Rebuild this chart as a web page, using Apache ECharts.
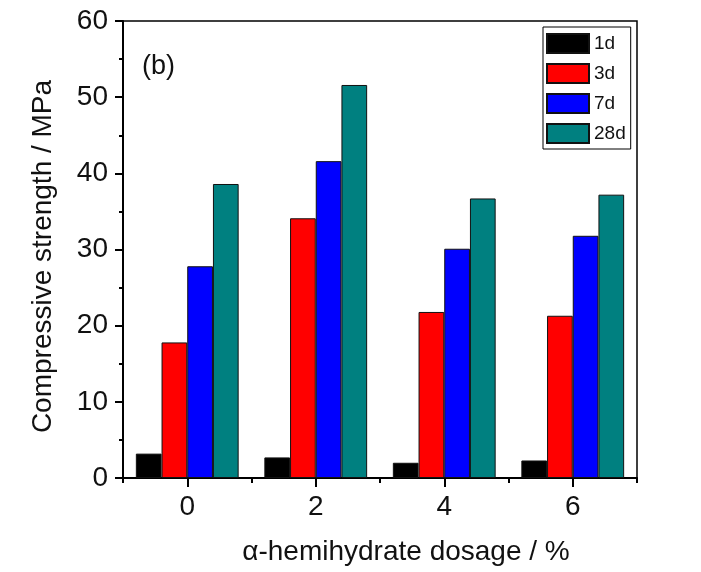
<!DOCTYPE html>
<html>
<head>
<meta charset="utf-8">
<script src="https://cdn.jsdelivr.net/npm/echarts@6/dist/echarts.min.js"></script>
<style>
  html, body { margin: 0; padding: 0; background: #fff; }
  #chart { width: 701px; height: 572px; }
</style>
</head>
<body>
<div id="chart"></div>
<script>
// Compressive strength of mortar by α-hemihydrate dosage and curing age
const dosages = ['0', '2', '4', '6'];
const ages = ['1d', '3d', '7d', '28d'];
const strength1d = [3.2, 2.7, 2.0, 2.3];
const strength3d = [17.8, 34.1, 21.8, 21.3];
const strength7d = [27.8, 41.6, 30.1, 31.8];
const strength28d = [38.6, 51.6, 36.7, 37.2];
const ageColors = ['#000000', '#ff0000', '#0000ff', '#008080'];

const FONT = '"Liberation Sans", Arial, sans-serif';
const TEXT = '#111111';

const seriesValues = [strength1d, strength3d, strength7d, strength28d];

const chart = echarts.init(document.getElementById('chart'), null, { renderer: 'canvas' });

chart.setOption({
  animation: false,
  backgroundColor: '#ffffff',
  textStyle: { fontFamily: FONT, color: TEXT },
  grid: {
    left: 123, right: 64, top: 21, bottom: 94,
    show: true, borderColor: '#000', borderWidth: 1.5, backgroundColor: 'transparent'
  },
  legend: {
    orient: 'vertical',
    left: 543, top: 27,
    align: 'left',
    itemWidth: 42, itemHeight: 19, itemGap: 9,
    padding: [6, 5, 5, 3],
    borderColor: '#000', borderWidth: 1,
    backgroundColor: '#fff',
    icon: 'rect',
    textStyle: { fontFamily: FONT, fontSize: 19, color: TEXT, lineHeight: 19 },
    data: ages
  },
  xAxis: [
    {
      type: 'category',
      data: dosages,
      position: 'bottom',
      axisLine: { show: true, lineStyle: { color: '#000', width: 2 } },
      axisTick: { show: true, alignWithLabel: true, length: 9, lineStyle: { color: '#000', width: 2 } },
      axisLabel: { fontFamily: FONT, fontSize: 28, color: TEXT, margin: 15 },
      name: 'α-hemihydrate dosage / %',
      nameLocation: 'middle',
      nameGap: 60,
      nameTextStyle: { fontFamily: FONT, fontSize: 28, color: TEXT, padding: [0, 0, 0, 52] }
    },
    {
      // boundary ticks between dosage groups
      type: 'category',
      data: dosages,
      position: 'bottom',
      axisLine: { show: false },
      axisTick: { show: true, length: 5, lineStyle: { color: '#000', width: 2 } },
      axisLabel: { show: false }
    }
  ],
  yAxis: {
    type: 'value',
    min: 0, max: 60, interval: 10,
    axisLine: { show: true, lineStyle: { color: '#000', width: 2 } },
    axisTick: { show: true, length: 8, lineStyle: { color: '#000', width: 2 } },
    minorTick: { show: true, splitNumber: 2, length: 4, lineStyle: { color: '#000', width: 2 } },
    splitLine: { show: false },
    axisLabel: { fontFamily: FONT, fontSize: 28, color: TEXT, margin: 15 },
    name: 'Compressive strength / MPa',
    nameLocation: 'middle',
    nameGap: 66,
    nameRotate: 90,
    nameTextStyle: { fontFamily: FONT, fontSize: 28, color: TEXT, padding: [0, 14, 0, 0] }
  },
  graphic: [
    {
      type: 'text',
      left: 142, top: 53,
      style: { text: '(b)', fontFamily: FONT, fontSize: 27, fill: TEXT }
    }
  ],
  series: ages.map((age, i) => ({
    name: age,
    type: 'bar',
    xAxisIndex: 0,
    data: seriesValues[i],
    barGap: '0%',
    barCategoryGap: '20%',
    itemStyle: { color: ageColors[i], borderColor: '#111', borderWidth: 1 }
  }))
});
</script>
</body>
</html>
